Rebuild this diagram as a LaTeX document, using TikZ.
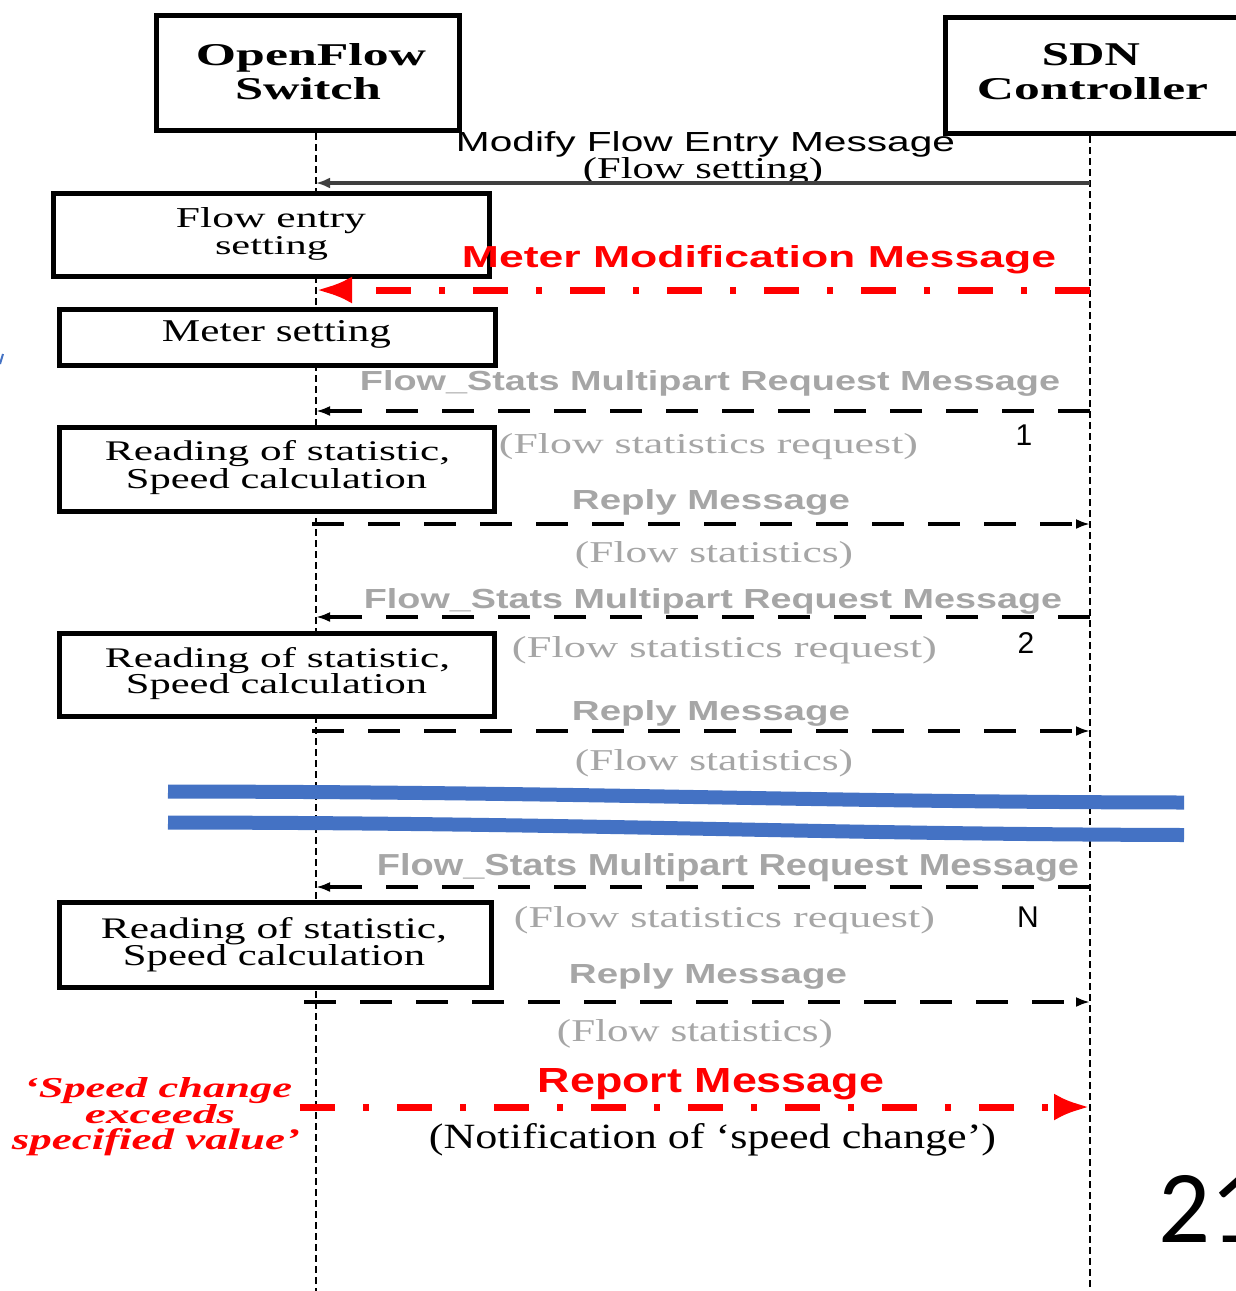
\documentclass[tikz,border=0pt]{standalone}
\usepackage{fontspec}
\setmainfont{Liberation Serif}
\setsansfont{Liberation Sans}
\newfontfamily\digitfont{Carlito}
\usepackage{graphicx}
\usetikzlibrary{arrows.meta}

\definecolor{msggray}{HTML}{A6A6A6}
\definecolor{alertred}{HTML}{FF0000}
\definecolor{bandblue}{HTML}{4472C4}
\definecolor{arrowdark}{HTML}{3F3F3F}

% text stretched to a given width and height (in pt)
\newcommand\fitlabel[3]{\resizebox{#1pt}{#2pt}{#3}}

\begin{document}
\begin{tikzpicture}[x=1pt,y=-1pt,
  lab/.style={anchor=base,inner sep=0pt,outer sep=0pt},
  actorbox/.style={draw,line width=5pt,fill=white,inner sep=0pt},
  procbox/.style={draw,line width=5pt,fill=white,inner sep=0pt},
  lifeline/.style={line width=2pt,dash pattern=on 7pt off 4pt},
  solidmsg/.style={line width=4pt,draw=arrowdark,-{Latex[length=14pt,width=11pt]}},
  statmsg/.style={line width=4pt,dash pattern=on 32pt off 24pt,-{Latex[length=14pt,width=10pt]}},
  redmsg/.style={line width=7pt,draw=alertred,dash pattern=on 35pt off 28pt on 6pt off 28pt,
    -{Latex[length=36pt,width=27pt]}},
  band/.style={line width=14pt,draw=bandblue},
  graytxt/.style={lab,text=msggray},
  redtxt/.style={lab,text=alertred}]

\clip (0,0) rectangle (1236,1291);
\fill[white] (0,0) rectangle (1236,1291);

% lifelines
\coordinate (sw-top) at (316,133);
\coordinate (sw-bot) at (316,1291);
\coordinate (ctl-top) at (1090,136);
\coordinate (ctl-bot) at (1090,1291);
\draw[lifeline] (sw-top) -- (sw-bot);
\draw[lifeline] (ctl-top) -- (ctl-bot);

% participants
\node[actorbox,minimum width=303pt,minimum height=115pt] (switch) at (308,73) {};
\node[lab] (switch-l1) at (311,65) {\fitlabel{230}{22}{\bfseries OpenFlow}};
\node[lab] (switch-l2) at (308,99) {\fitlabel{146}{22}{\bfseries Switch}};

\node[actorbox,minimum width=310pt,minimum height=116pt] (ctl) at (1100.5,75.5) {};
\node[lab] (ctl-l1) at (1091,65) {\fitlabel{98}{22}{\bfseries SDN}};
\node[lab] (ctl-l2) at (1092.5,99) {\fitlabel{231}{22}{\bfseries Controller}};

% message rows
\coordinate (y-modify) at (0,183);
\coordinate (y-meter) at (0,290);
\coordinate (y-req1) at (0,411);
\coordinate (y-rep1) at (0,524);
\coordinate (y-req2) at (0,617);
\coordinate (y-rep2) at (0,731);
\coordinate (y-req3) at (0,887);
\coordinate (y-rep3) at (0,1002);
\coordinate (y-report) at (0,1107);

% flow setting
\node[lab] (modify-t) at (705.5,151) {\fitlabel{499}{20}{\sffamily Modify Flow Entry Message}};
\node[lab] (modify-s) at (703,178) {\fitlabel{240}{21}{(Flow setting)}};
\draw[solidmsg] (ctl-top |- y-modify) -- (sw-top |- y-modify);

\node[procbox,minimum width=436pt,minimum height=83pt] (flowentry) at (271.5,235) {};
\node[lab] (flowentry-l1) at (271,227) {\fitlabel{190}{20}{Flow entry}};
\node[lab] (flowentry-l2) at (271.5,254) {\fitlabel{113}{18}{setting}};

% meter modification
\node[redtxt] (meter-t) at (759,267) {\fitlabel{594}{22}{\sffamily\bfseries Meter Modification Message}};
\draw[redmsg] (ctl-top |- y-meter) -- (sw-top |- y-meter);

\node[procbox,minimum width=436pt,minimum height=56pt] (metersetting) at (277.5,337.5) {};
\node[lab] (metersetting-l) at (276.5,341) {\fitlabel{229}{21}{Meter setting}};

% statistics round 1
\node[graytxt] (req1-t) at (710,390) {\fitlabel{700}{20}{\sffamily\bfseries Flow\_Stats Multipart Request Message}};
\draw[statmsg] (ctl-top |- y-req1) -- (sw-top |- y-req1);
\node[graytxt] (req1-s) at (708.5,453) {\fitlabel{419}{20}{(Flow statistics request)}};
\node[lab] (round1) at (1024,445) {\fontsize{30}{30}\selectfont\sffamily 1};

\node[procbox,minimum width=435pt,minimum height=84pt] (calc1) at (277,469.5) {};
\node[lab] (calc1-l1) at (277.5,460) {\fitlabel{345}{20}{Reading of statistic,}};
\node[lab] (calc1-l2) at (276.5,488) {\fitlabel{301}{20}{Speed calculation}};

\node[graytxt] (rep1-t) at (711,509) {\fitlabel{278}{20}{\sffamily\bfseries Reply Message}};
\draw[statmsg] ([xshift=-4pt]sw-top |- y-rep1) -- (ctl-top |- y-rep1);
\node[graytxt] (rep1-s) at (714,562) {\fitlabel{278}{21}{(Flow statistics)}};

% statistics round 2
\node[graytxt] (req2-t) at (713,608) {\fitlabel{698}{20}{\sffamily\bfseries Flow\_Stats Multipart Request Message}};
\draw[statmsg] (ctl-top |- y-req2) -- (sw-top |- y-req2);
\node[graytxt] (req2-s) at (724.5,657) {\fitlabel{425}{21}{(Flow statistics request)}};
\node[lab] (round2) at (1026,653) {\fontsize{30}{30}\selectfont\sffamily 2};

\node[procbox,minimum width=435pt,minimum height=83pt] (calc2) at (277,675) {};
\node[lab] (calc2-l1) at (277.5,667) {\fitlabel{345}{20}{Reading of statistic,}};
\node[lab] (calc2-l2) at (276.5,693) {\fitlabel{301}{20}{Speed calculation}};

\node[graytxt] (rep2-t) at (711,720) {\fitlabel{278}{20}{\sffamily\bfseries Reply Message}};
\draw[statmsg] ([xshift=-4pt]sw-top |- y-rep2) -- (ctl-top |- y-rep2);
\node[graytxt] (rep2-s) at (714,770) {\fitlabel{278}{21}{(Flow statistics)}};

% omitted rounds
\draw[band] (168,791.5) .. controls (600,792) and (800,802) .. (1184,802.5);
\draw[band] (168,822.5) .. controls (600,823) and (800,834) .. (1184,835);

% statistics round N
\node[graytxt] (req3-t) at (728,875) {\fitlabel{702}{22}{\sffamily\bfseries Flow\_Stats Multipart Request Message}};
\draw[statmsg] (ctl-top |- y-req3) -- (sw-top |- y-req3);
\node[graytxt] (req3-s) at (724.5,927) {\fitlabel{421}{21}{(Flow statistics request)}};
\node[lab] (roundN) at (1028,927) {\fontsize{30}{30}\selectfont\sffamily N};

\node[procbox,minimum width=432pt,minimum height=85pt] (calc3) at (275.5,945) {};
\node[lab] (calc3-l1) at (274,938) {\fitlabel{346}{21}{Reading of statistic,}};
\node[lab] (calc3-l2) at (274,965) {\fitlabel{302}{21}{Speed calculation}};

\node[graytxt] (rep3-t) at (708,983) {\fitlabel{278}{20}{\sffamily\bfseries Reply Message}};
\draw[statmsg] ([xshift=-12pt]sw-top |- y-rep3) -- (ctl-top |- y-rep3);
\node[graytxt] (rep3-s) at (695,1041) {\fitlabel{276}{22}{(Flow statistics)}};

% report
\node[redtxt] (report-t) at (711,1092) {\fitlabel{346}{24}{\sffamily\bfseries Report Message}};
\draw[redmsg] ([xshift=-16pt]sw-top |- y-report) -- (ctl-top |- y-report);
\node[lab] (report-s) at (712.5,1148) {\fitlabel{567}{25}{(Notification of ‘speed change’)}};

\node[redtxt] (cond-l1) at (158,1097) {\fitlabel{268}{20}{\bfseries\itshape ‘Speed change}};
\node[redtxt] (cond-l2) at (160,1123) {\fitlabel{150}{19}{\bfseries\itshape exceeds}};
\node[redtxt] (cond-l3) at (156,1149) {\fitlabel{288}{21}{\bfseries\itshape specified value’}};

% page number
\node[anchor=base west,inner sep=0pt] (pageno) at (1158,1242) {\fitlabel{104}{67}{\digitfont 21}};

% small mark at the left edge
\coordinate (mark-a) at (0,364);
\coordinate (mark-b) at (3,354);
\draw[bandblue,line width=2pt] (mark-a) -- (mark-b);
\end{tikzpicture}
\end{document}
